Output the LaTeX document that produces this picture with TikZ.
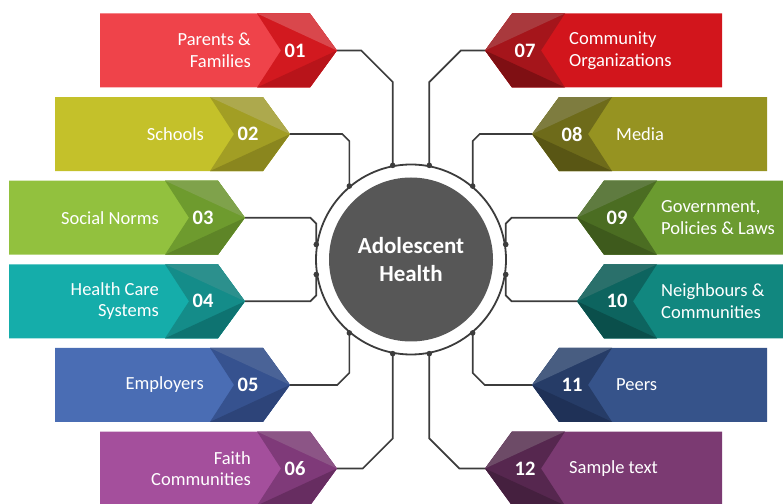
\documentclass[tikz,border=0pt]{standalone}
\usepackage{fontspec}
\setmainfont{Carlito}
\usepackage{tikz}
\usetikzlibrary{calc}

% banner colours: body, middle of the chevron, light facet, dark facet
\definecolor{body01}{HTML}{EF434A}\definecolor{mid01}{HTML}{D2191F}\definecolor{hi01}{HTML}{D9474C}\definecolor{lo01}{HTML}{B8141A}
\definecolor{body02}{HTML}{C4C12A}\definecolor{mid02}{HTML}{A29E24}\definecolor{hi02}{HTML}{ADA94D}\definecolor{lo02}{HTML}{8A861E}
\definecolor{body03}{HTML}{92C13E}\definecolor{mid03}{HTML}{6E9B2E}\definecolor{hi03}{HTML}{7FA24B}\definecolor{lo03}{HTML}{5E8527}
\definecolor{body04}{HTML}{15ADAA}\definecolor{mid04}{HTML}{148C89}\definecolor{hi04}{HTML}{2C908D}\definecolor{lo04}{HTML}{0E7371}
\definecolor{body05}{HTML}{4A6DB4}\definecolor{mid05}{HTML}{36528F}\definecolor{hi05}{HTML}{4A6397}\definecolor{lo05}{HTML}{2D4479}
\definecolor{body06}{HTML}{A44F9C}\definecolor{mid06}{HTML}{7F3A79}\definecolor{hi06}{HTML}{8C5586}\definecolor{lo06}{HTML}{672D61}
\definecolor{body07}{HTML}{D2151C}\definecolor{mid07}{HTML}{A5151B}\definecolor{hi07}{HTML}{A9393D}\definecolor{lo07}{HTML}{7F0F13}
\definecolor{body08}{HTML}{969321}\definecolor{mid08}{HTML}{6E6B1A}\definecolor{hi08}{HTML}{7E7C3F}\definecolor{lo08}{HTML}{595614}
\definecolor{body09}{HTML}{6B9B30}\definecolor{mid09}{HTML}{4B6D22}\definecolor{hi09}{HTML}{5F7B40}\definecolor{lo09}{HTML}{3E5A1C}
\definecolor{body10}{HTML}{11877F}\definecolor{mid10}{HTML}{0D645F}\definecolor{hi10}{HTML}{2A706B}\definecolor{lo10}{HTML}{0A4F4B}
\definecolor{body11}{HTML}{36538A}\definecolor{mid11}{HTML}{263C67}\definecolor{hi11}{HTML}{485D81}\definecolor{lo11}{HTML}{1F3157}
\definecolor{body12}{HTML}{7B3A72}\definecolor{mid12}{HTML}{56274F}\definecolor{hi12}{HTML}{6D4B67}\definecolor{lo12}{HTML}{45203F}
\definecolor{linkgray}{HTML}{3C3C3C}
\definecolor{hubgray}{HTML}{575757}

% #1 id, #2 left x, #3 tip x, #4 y, #5 label
\newcommand{\leftbanner}[5]{%
  \fill[body#1] (#2,#4+37) -- (#3-27,#4+37) -- (#3,#4) -- (#3-27,#4-37) -- (#2,#4-37) -- cycle;
  \fill[mid#1] (#3-80,#4+37) -- (#3-27,#4+37) -- (#3,#4) -- (#3-27,#4-37) -- (#3-80,#4-37) -- (#3-56,#4) -- cycle;
  \fill[hi#1] (#3-80,#4+37) -- (#3-27,#4+37) -- (#3,#4) -- cycle;
  \fill[lo#1] (#3-80,#4-37) -- (#3-27,#4-37) -- (#3,#4) -- cycle;
  \coordinate (t#1) at (#3,#4);
  \node[bnum] (n#1) at (#3-42,#4) {#1};
  \node[btext, anchor=east, align=right] (l#1) at (#3-86,#4) {#5};
}
% #1 id, #2 tip x, #3 right x, #4 y, #5 label
\newcommand{\rightbanner}[5]{%
  \fill[body#1] (#2,#4) -- (#2+27,#4+37) -- (#3,#4+37) -- (#3,#4-37) -- (#2+27,#4-37) -- cycle;
  \fill[mid#1] (#2,#4) -- (#2+27,#4+37) -- (#2+80,#4+37) -- (#2+56,#4) -- (#2+80,#4-37) -- (#2+27,#4-37) -- cycle;
  \fill[hi#1] (#2,#4) -- (#2+27,#4+37) -- (#2+80,#4+37) -- cycle;
  \fill[lo#1] (#2,#4) -- (#2+27,#4-37) -- (#2+80,#4-37) -- cycle;
  \coordinate (t#1) at (#2,#4);
  \node[bnum] (n#1) at (#2+40,#4) {#1};
  \node[btext, anchor=west, align=left] (l#1) at (#2+84,#4) {#5};
}

\begin{document}
\begin{tikzpicture}[x=1pt, y=1pt,
                    btext/.style={text=white, inner sep=0pt, font=\fontsize{18.5}{21.5}\selectfont},
                    bnum/.style={text=white, inner sep=0pt, font=\bfseries\fontsize{20.5}{22}\selectfont},
                    link/.style={draw=linkgray, line width=1.7pt},
                    hub/.style={circle, fill=hubgray, minimum size=164pt, inner sep=0pt,
                                text=white, align=center, font=\bfseries\fontsize{23}{28.5}\selectfont},
                    ring/.style={circle, draw=linkgray, line width=1.8pt, minimum size=190pt, inner sep=0pt}]
   \useasboundingbox (0,0) rectangle (783,503);
   \clip (0,0) rectangle (783,503);
   %\draw[help lines, step=50] (0,0) grid (783,503);

   \leftbanner{01}{100}{337}{452.5}{Parents \&\\Families}
   \leftbanner{02}{55}{290}{368.9}{Schools}
   \leftbanner{03}{9}{245}{285.3}{Social Norms}
   \leftbanner{04}{9}{245}{201.7}{Health Care\\Systems}
   \leftbanner{05}{55}{290}{118.1}{Employers}
   \leftbanner{06}{100}{337}{34.5}{Faith\\Communities}

   \rightbanner{07}{485}{722}{452.5}{Community\\Organizations}
   \rightbanner{08}{532}{767}{368.9}{Media}
   \rightbanner{09}{577}{813}{285.3}{Government,\\Policies \& Laws}
   \rightbanner{10}{577}{813}{201.7}{Neighbours \&\\Communities}
   \rightbanner{11}{532}{767}{118.1}{Peers}
   \rightbanner{12}{485}{722}{34.5}{Sample text}

   \node[hub] (hub) at (411,243.5) {Adolescent\\Health};
   \node[ring] (ring) at (hub) {};

   % Define links
   \draw[link] (t01) -- ($(t01 -| ring.101)+(-31.5,0)$) -- ++(31.5,-31.5) -- (ring.101);
   \draw[link] (t02) -- ($(t02 -| ring.130)+(-7,0)$) -- ++(7,-7) -- (ring.130);
   \draw[link] (t03) -- ($(t03 -| ring.171)+(-6,0)$) -- ++(6,-6) -- (ring.171);
   \draw[link] (t04) -- ($(t04 -| ring.189)+(-6,0)$) -- ++(6,6) -- (ring.189);
   \draw[link] (t05) -- ($(t05 -| ring.230)+(-12,0)$) -- ++(12,12) -- (ring.230);
   \draw[link] (t06) -- ($(t06 -| ring.259)+(-30,0)$) -- ++(30,30) -- (ring.259);
   \draw[link] (t07) -- ($(t07 -| ring.79)+(31.5,0)$) -- ++(-31.5,-31.5) -- (ring.79);
   \draw[link] (t08) -- ($(t08 -| ring.50)+(7,0)$) -- ++(-7,-7) -- (ring.50);
   \draw[link] (t09) -- ($(t09 -| ring.9)+(6,0)$) -- ++(-6,-6) -- (ring.9);
   \draw[link] (t10) -- ($(t10 -| ring.351)+(6,0)$) -- ++(-6,6) -- (ring.351);
   \draw[link] (t11) -- ($(t11 -| ring.310)+(12,0)$) -- ++(-12,12) -- (ring.310);
   \draw[link] (t12) -- ($(t12 -| ring.281)+(30,0)$) -- ++(-30,30) -- (ring.281);

   \foreach \a in {101,130,171,189,230,259,79,50,9,351,310,281}
     \fill[linkgray] (ring.\a) circle (2.8);
\end{tikzpicture}
\end{document}
